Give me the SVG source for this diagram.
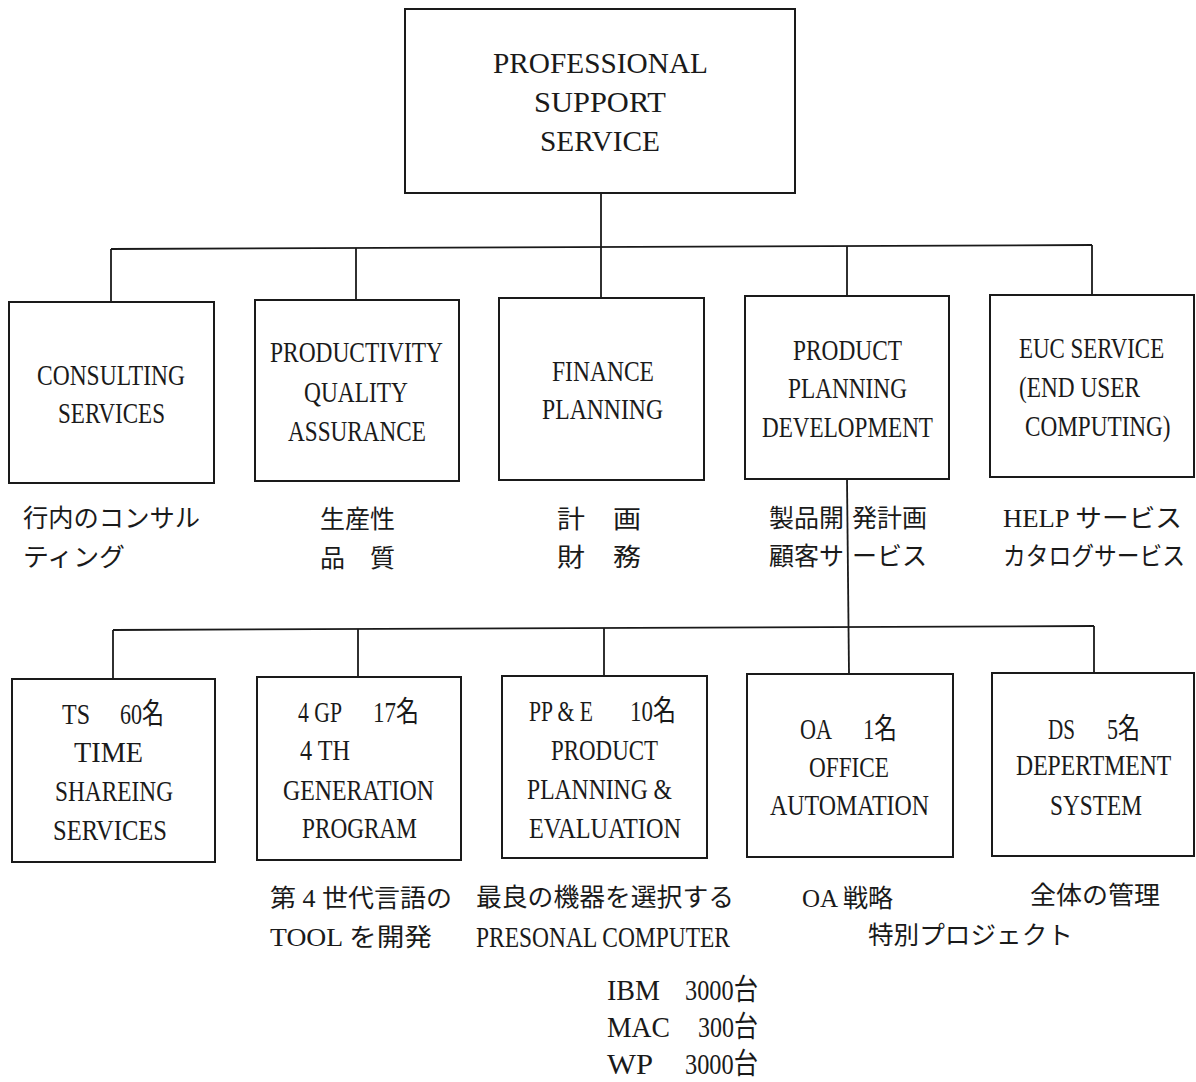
<svg xmlns="http://www.w3.org/2000/svg" width="1196" height="1082" viewBox="0 0 1196 1082">
  <style>
    .box { fill: #ffffff; stroke: #1a1a1a; stroke-width: 2; }
    .ln { stroke: #1a1a1a; stroke-width: 1.8; fill: none; }
    .t { font-family: "Liberation Serif", "Noto Sans CJK JP", serif; font-size: 29px; fill: #1a1a1a; }
    .c { font-family: "Liberation Serif", "Noto Sans CJK JP", serif; font-size: 29px; fill: #1a1a1a; }
    .j { font-family: "Liberation Serif", "Noto Sans CJK JP", serif; font-size: 25px; fill: #1a1a1a; }
  </style>
  <rect width="1196" height="1082" fill="#ffffff"/>

  <!-- connectors -->
  <g id="connectors">
    <line class="ln" x1="601" y1="193" x2="601" y2="298"/>
    <line class="ln" x1="111" y1="249" x2="1092" y2="245"/>
    <line class="ln" x1="111" y1="249" x2="111" y2="302"/>
    <line class="ln" x1="356" y1="248" x2="356" y2="300"/>
    <line class="ln" x1="847" y1="246" x2="847" y2="296"/>
    <line class="ln" x1="1092" y1="245" x2="1092" y2="295"/>
    <line class="ln" x1="847" y1="479" x2="849" y2="674"/>
    <line class="ln" x1="113" y1="630" x2="1094" y2="626"/>
    <line class="ln" x1="113" y1="630" x2="113" y2="679"/>
    <line class="ln" x1="358" y1="629" x2="358" y2="677"/>
    <line class="ln" x1="604" y1="628" x2="604" y2="676"/>
    <line class="ln" x1="1094" y1="626" x2="1094" y2="673"/>
  </g>

  <!-- top -->
  <g id="pss">
    <rect class="box" x="405" y="9" width="390" height="184"/>
    <text class="t" x="493" y="73" textLength="215" lengthAdjust="spacingAndGlyphs">PROFESSIONAL</text>
    <text class="t" x="534" y="112" textLength="132" lengthAdjust="spacingAndGlyphs">SUPPORT</text>
    <text class="t" x="540" y="151" textLength="120" lengthAdjust="spacingAndGlyphs">SERVICE</text>
  </g>

  <!-- first level -->
  <g id="consulting">
    <rect class="box" x="9" y="302" width="205" height="181"/>
    <text class="c" x="37" y="385" textLength="148" lengthAdjust="spacingAndGlyphs">CONSULTING</text>
    <text class="c" x="58" y="423" textLength="107" lengthAdjust="spacingAndGlyphs">SERVICES</text>
    <text class="j" x="23" y="527" textLength="177" lengthAdjust="spacingAndGlyphs">行内のコンサル</text>
    <text class="j" x="23" y="566" textLength="102" lengthAdjust="spacingAndGlyphs">ティング</text>
  </g>

  <g id="pqa">
    <rect class="box" x="255" y="300" width="204" height="181"/>
    <text class="c" x="270" y="362" textLength="173" lengthAdjust="spacingAndGlyphs">PRODUCTIVITY</text>
    <text class="c" x="304" y="402" textLength="104" lengthAdjust="spacingAndGlyphs">QUALITY</text>
    <text class="c" x="288" y="441" textLength="138" lengthAdjust="spacingAndGlyphs">ASSURANCE</text>
    <text class="j" x="320" y="528" textLength="75" lengthAdjust="spacingAndGlyphs">生産性</text>
    <text class="j" x="320" y="567" textLength="75" lengthAdjust="spacingAndGlyphs">品　質</text>
  </g>

  <g id="finance">
    <rect class="box" x="499" y="298" width="205" height="182"/>
    <text class="c" x="552" y="381" textLength="102" lengthAdjust="spacingAndGlyphs">FINANCE</text>
    <text class="c" x="542" y="419" textLength="121" lengthAdjust="spacingAndGlyphs">PLANNING</text>
    <text class="j" x="557" y="528" textLength="84" lengthAdjust="spacingAndGlyphs">計　画</text>
    <text class="j" x="557" y="566" textLength="84" lengthAdjust="spacingAndGlyphs">財　務</text>
  </g>

  <g id="ppd">
    <rect class="box" x="745" y="296" width="204" height="183"/>
    <text class="c" x="793" y="360" textLength="109" lengthAdjust="spacingAndGlyphs">PRODUCT</text>
    <text class="c" x="788" y="398" textLength="119" lengthAdjust="spacingAndGlyphs">PLANNING</text>
    <text class="c" x="762" y="437" textLength="171" lengthAdjust="spacingAndGlyphs">DEVELOPMENT</text>
    <text class="j" y="527"><tspan x="769">製品開</tspan><tspan x="852">発計画</tspan></text>
    <text class="j" y="565"><tspan x="769">顧客サ</tspan><tspan x="852">ービス</tspan></text>
  </g>

  <!-- near the right edge the lines are narrowed with a scale instead of textLength -->
  <g id="euc">
    <rect class="box" x="990" y="295" width="204" height="182"/>
    <text class="c" transform="translate(1019 358) scale(0.79 1)">EUC SERVICE</text>
    <text class="c" x="1019" y="397" textLength="121" lengthAdjust="spacingAndGlyphs">(END USER</text>
    <text class="c" transform="translate(1025 436) scale(0.8 1)">COMPUTING)</text>
    <text class="j" x="1003" y="527" textLength="179" lengthAdjust="spacingAndGlyphs">HELP サービス</text>
    <text class="j" transform="translate(1003 565) scale(0.91 1)">カタログサービス</text>
  </g>

  <!-- second level -->
  <g id="ts">
    <rect class="box" x="12" y="679" width="203" height="183"/>
    <text class="c" x="62" y="724" textLength="28" lengthAdjust="spacingAndGlyphs">TS</text>
    <text class="c" x="120" y="724" textLength="44" lengthAdjust="spacingAndGlyphs">60名</text>
    <text class="c" x="74" y="762" textLength="69" lengthAdjust="spacingAndGlyphs">TIME</text>
    <text class="c" x="55" y="801" textLength="118" lengthAdjust="spacingAndGlyphs">SHAREING</text>
    <text class="c" x="53" y="840" textLength="114" lengthAdjust="spacingAndGlyphs">SERVICES</text>
  </g>

  <g id="gp4">
    <rect class="box" x="257" y="677" width="204" height="183"/>
    <text class="c" x="298" y="722" textLength="44" lengthAdjust="spacingAndGlyphs">4 GP</text>
    <text class="c" x="373" y="722" textLength="46" lengthAdjust="spacingAndGlyphs">17名</text>
    <text class="c" x="300" y="760" textLength="50" lengthAdjust="spacingAndGlyphs">4 TH</text>
    <text class="c" x="283" y="800" textLength="151" lengthAdjust="spacingAndGlyphs">GENERATION</text>
    <text class="c" x="302" y="838" textLength="115" lengthAdjust="spacingAndGlyphs">PROGRAM</text>
    <text class="j" x="270" y="907" textLength="182" lengthAdjust="spacingAndGlyphs">第 4 世代言語の</text>
    <text class="j" x="270" y="946" textLength="162" lengthAdjust="spacingAndGlyphs">TOOL を開発</text>
  </g>

  <g id="ppe">
    <rect class="box" x="502" y="676" width="205" height="182"/>
    <text class="c" x="529" y="721" textLength="64" lengthAdjust="spacingAndGlyphs">PP &amp; E</text>
    <text class="c" x="630" y="721" textLength="46" lengthAdjust="spacingAndGlyphs">10名</text>
    <text class="c" x="551" y="760" textLength="107" lengthAdjust="spacingAndGlyphs">PRODUCT</text>
    <text class="c" x="527" y="799" textLength="145" lengthAdjust="spacingAndGlyphs">PLANNING &amp;</text>
    <text class="c" x="529" y="838" textLength="152" lengthAdjust="spacingAndGlyphs">EVALUATION</text>
    <text class="j" x="476" y="906" textLength="258" lengthAdjust="spacingAndGlyphs">最良の機器を選択する</text>
    <text class="c" x="476" y="947" font-size="27" textLength="254" lengthAdjust="spacingAndGlyphs">PRESONAL COMPUTER</text>
    <text class="t" x="607" y="1000" textLength="53" lengthAdjust="spacingAndGlyphs">IBM</text>
    <text class="c" x="685" y="1000" font-size="27" textLength="73" lengthAdjust="spacingAndGlyphs">3000台</text>
    <text class="t" x="607" y="1037" textLength="63" lengthAdjust="spacingAndGlyphs">MAC</text>
    <text class="c" x="698" y="1037" font-size="27" textLength="60" lengthAdjust="spacingAndGlyphs">300台</text>
    <text class="t" x="607" y="1074" textLength="46" lengthAdjust="spacingAndGlyphs">WP</text>
    <text class="c" x="685" y="1074" font-size="27" textLength="73" lengthAdjust="spacingAndGlyphs">3000台</text>
  </g>

  <g id="oa">
    <rect class="box" x="747" y="674" width="206" height="183"/>
    <text class="c" x="800" y="739" textLength="32" lengthAdjust="spacingAndGlyphs">OA</text>
    <text class="c" x="863" y="739" textLength="34" lengthAdjust="spacingAndGlyphs">1名</text>
    <text class="c" x="809" y="777" textLength="80" lengthAdjust="spacingAndGlyphs">OFFICE</text>
    <text class="c" x="770" y="815" textLength="159" lengthAdjust="spacingAndGlyphs">AUTOMATION</text>
    <text class="j" x="802" y="907" textLength="91" lengthAdjust="spacingAndGlyphs">OA 戦略</text>
    <text class="j" x="868" y="944" textLength="205" lengthAdjust="spacingAndGlyphs">特別プロジェクト</text>
  </g>

  <g id="ds">
    <rect class="box" x="992" y="673" width="202" height="183"/>
    <text class="c" x="1048" y="739" textLength="27" lengthAdjust="spacingAndGlyphs">DS</text>
    <text class="c" x="1107" y="739" textLength="33" lengthAdjust="spacingAndGlyphs">5名</text>
    <text class="c" transform="translate(1016 775) scale(0.818 1)">DEPERTMENT</text>
    <text class="c" x="1050" y="815" textLength="92" lengthAdjust="spacingAndGlyphs">SYSTEM</text>
    <text class="j" x="1030" y="904" textLength="130" lengthAdjust="spacingAndGlyphs">全体の管理</text>
  </g>
</svg>
